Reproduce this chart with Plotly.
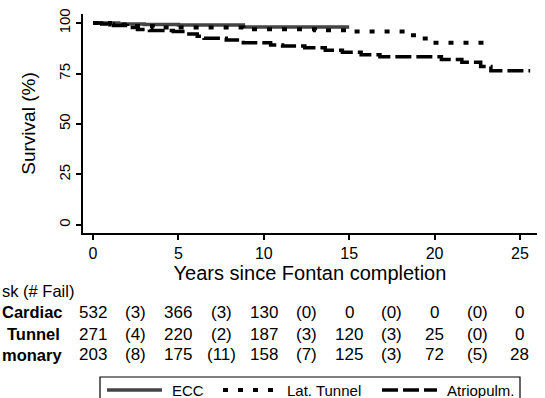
import plotly.graph_objects as go

# ---- survival curves (years, survival %) ----
ecc_t = [0, 1.5, 3.0, 5.0, 8.8, 15.0]
ecc_s = [100, 99.6, 99.3, 99.0, 98.0, 98.0]

lt_t = [0, 1.0, 2.0, 3.5, 8.8, 13.0, 15.0, 18.5, 19.2, 19.7, 23.1]
lt_s = [100, 99.3, 98.5, 97.8, 97.0, 96.5, 95.8, 94.0, 92.4, 90.3, 90.3]

ap_t = [0, 0.5, 1.2, 2.0, 2.6, 3.3, 4.7, 5.5, 6.1, 6.5, 7.8, 8.8, 10.4, 11.1,
        12.4, 13.6, 14.6, 15.7, 16.8, 20.4, 21.6, 22.7, 23.3, 25.6]
ap_s = [100, 99.5, 98.8, 97.8, 96.8, 96.3, 95.8, 94.6, 93.5, 92.5, 91.6, 90.2,
        89.2, 88.6, 87.8, 86.6, 85.5, 84.3, 83.3, 82.0, 80.6, 78.5, 76.4, 76.4]

# ---- risk table (row labels as they are visible in the cropped source) ----
risk_years = [0, 5, 10, 15, 20, 25]
fail_years = [2.5, 7.5, 12.5, 17.5, 22.5]
row_labels = ["Cardiac", "Tunnel", "monary"]
risk_vals = [[532, 366, 130, 0, 0, 0],
             [271, 220, 187, 120, 25, 0],
             [203, 175, 158, 125, 72, 28]]
fail_vals = [[3, 3, 0, 0, 0],
             [4, 2, 3, 3, 0],
             [8, 11, 7, 3, 5]]
table_title = "sk (# Fail)"

series_names = ["ECC", "Lat. Tunnel", "Atriopulm."]

W, H = 545, 398
ML, MR, MT, MB = 83, 8, 14, 165
PW, PH = W - ML - MR, H - MT - MB
FONT = "Liberation Sans, Arial, sans-serif"


def py(ypx):
    return (H - MB - ypx) / PH


def px(xpx):
    return (xpx - ML) / PW


styles = [dict(color="#444444", width=3.5),
          dict(color="black", width=4, dash="5px,10px"),
          dict(color="black", width=3.5, dash="16px,5px")]

fig = go.Figure()
for (t, s), name, st in zip([(ecc_t, ecc_s), (lt_t, lt_s), (ap_t, ap_s)], series_names, styles):
    fig.add_trace(go.Scatter(x=t, y=s, mode="lines", name=name, showlegend=False,
                             line=dict(shape="hv", **st)))

ann = []
shapes = []
row_y = [312, 334, 355]
TF = 17
ann.append(dict(text=table_title, xref="paper", yref="paper", x=px(0), y=py(291),
                xanchor="left", yanchor="middle", showarrow=False,
                font=dict(size=16.5, color="black", family=FONT)))
lab_anchor = [("left", 0), ("right", 62), ("left", 0)]
for i, lab in enumerate(row_labels):
    xa, xp = lab_anchor[i]
    ann.append(dict(text="<b>" + lab + "</b>", xref="paper", yref="paper", x=px(xp),
                    y=py(row_y[i]), xanchor=xa, yanchor="middle", showarrow=False,
                    font=dict(size=16.5, color="black", family=FONT)))
    for yr, v in zip(risk_years, risk_vals[i]):
        ann.append(dict(text=str(v), xref="x", yref="paper", x=yr, y=py(row_y[i]),
                        xanchor="center", yanchor="middle", showarrow=False,
                        font=dict(size=TF, color="black", family=FONT)))
    for yr, v in zip(fail_years, fail_vals[i]):
        ann.append(dict(text="(" + str(v) + ")", xref="x", yref="paper", x=yr,
                        y=py(row_y[i]), xanchor="center", yanchor="middle",
                        showarrow=False, font=dict(size=TF, color="black", family=FONT)))

# ---- legend box (drawn by hand, its lower part runs off the page as in the source) ----
LEG_TOP, LEG_Y = 377, 390
shapes.append(dict(type="rect", xref="paper", yref="paper", x0=px(100), x1=px(520),
                   y0=py(LEG_TOP), y1=py(430), line=dict(color="black", width=1.2),
                   fillcolor="white", layer="above"))
key_x = [(107, 162), (223, 273), (382, 437)]
text_x = [170, 285, 445]
for (a, b), tx, name, st in zip(key_x, text_x, series_names, styles):
    shapes.append(dict(type="line", xref="paper", yref="paper", x0=px(a), x1=px(b),
                       y0=py(LEG_Y), y1=py(LEG_Y), line=st, layer="above"))
    ann.append(dict(text=name, xref="paper", yref="paper", x=px(tx), y=py(LEG_Y),
                    xanchor="left", yanchor="middle", showarrow=False,
                    font=dict(size=15, color="black", family=FONT)))

fig.update_layout(
    width=W, height=H,
    margin=dict(l=ML, r=MR, t=MT, b=MB, pad=0, autoexpand=False),
    paper_bgcolor="white", plot_bgcolor="white",
    font=dict(family=FONT, color="black", size=15),
    showlegend=False,
    annotations=ann,
    shapes=shapes,
    xaxis=dict(range=[-0.59, 26.0], tickvals=risk_years, showgrid=False, zeroline=False,
               showline=True, linecolor="black", linewidth=2, ticks="outside",
               ticklen=5, tickwidth=1.5, tickcolor="black",
               tickfont=dict(size=16, color="black", family=FONT),
               title=dict(text="Years since Fontan completion", standoff=3,
                          font=dict(size=20, color="black", family=FONT))),
    yaxis=dict(range=[-4, 104.5], tickvals=[0, 25, 50, 75, 100], showgrid=False,
               zeroline=False, showline=True, linecolor="black", linewidth=2,
               ticks="outside", ticklen=5, tickwidth=1.5, tickcolor="black",
               tickangle=-90, tickfont=dict(size=15, color="black", family=FONT),
               title=dict(text="Survival (%)", standoff=15,
                          font=dict(size=19, color="black", family=FONT))),
)

fig.write_html("out.html")
